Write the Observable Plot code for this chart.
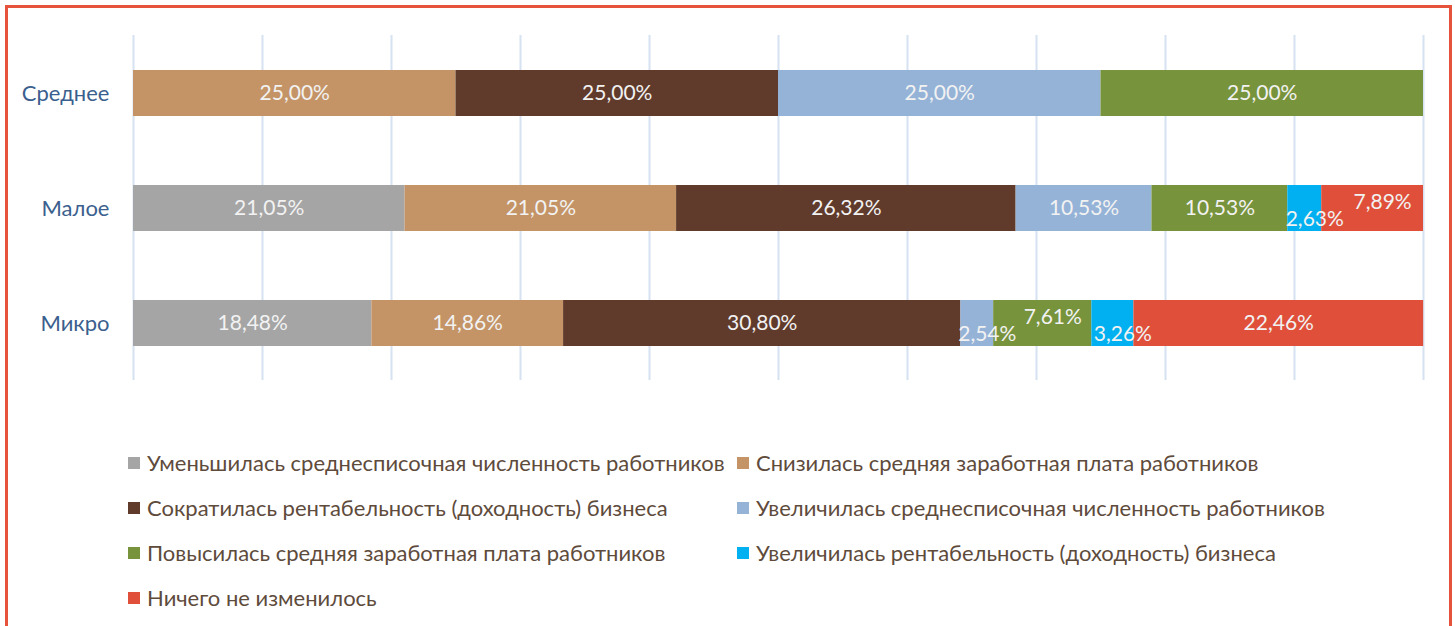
<!DOCTYPE html>
<html>
<head>
<meta charset="utf-8">
<script src="https://cdn.jsdelivr.net/npm/d3@7"></script>
<script src="https://cdn.jsdelivr.net/npm/@observablehq/plot@0.6"></script>
<style>
  html, body { margin: 0; padding: 0; background: #fff; }
  #wrap { position: relative; width: 1455px; height: 626px; overflow: hidden; background: #fff; }
  #frame { position: absolute; left: 5px; top: 5px; width: 1441px; height: 700px; border: 3px solid #E5533D; pointer-events: none; }
  #chart { position: absolute; left: 0; top: 0; }
  #legend { position: absolute; left: 128px; top: 440px; display: grid; grid-template-columns: 609px auto; grid-auto-rows: 45px; font-family: Lato, sans-serif; font-size: 22px; color: #5E4B3C; }
  .item { display: flex; align-items: center; white-space: nowrap; }
  .sw { width: 12px; height: 12px; margin-right: 7px; flex: none; }
</style>
</head>
<body>
<div id="wrap">
  <div id="chart"></div>
  <div id="legend"></div>
  <div id="frame"></div>
</div>
<script>
const categories = ["Среднее", "Малое", "Микро"];
const seriesNames = [
  "Уменьшилась среднесписочная численность работников",
  "Снизилась средняя заработная плата работников",
  "Сократилась рентабельность (доходность) бизнеса",
  "Увеличилась среднесписочная численность работников",
  "Повысилась средняя заработная плата работников",
  "Увеличилась рентабельность (доходность) бизнеса",
  "Ничего не изменилось"
];
const seriesColors = ["#A5A5A5", "#C49467", "#603A2B", "#95B3D7", "#77933C", "#00B0F0", "#E04F3A"];
const sredneeValues = [0, 25.00, 25.00, 25.00, 25.00, 0, 0];
const maloeValues = [21.05, 21.05, 26.32, 10.53, 10.53, 2.63, 7.89];
const mikroValues = [18.48, 14.86, 30.80, 2.54, 7.61, 3.26, 22.46];
const xTicks = [0, 10, 20, 30, 40, 50, 60, 70, 80, 90, 100];

const valuesByCat = [sredneeValues, maloeValues, mikroValues];
const data = [];
categories.forEach((cat, ci) => {
  let acc = 0;
  valuesByCat[ci].forEach((v, si) => {
    data.push({cat, series: seriesNames[si], v, mid: acc + v / 2});
    acc += v;
  });
});
const labelled = data.filter(d => d.v > 0);
const fmt = v => v.toFixed(2).replace(".", ",") + "%";

const labelStyle = {fill: "#F2F2F2", fontSize: 21, fontFamily: "Lato, sans-serif"};

const chart = Plot.plot({
  width: 1455,
  height: 400,
  marginLeft: 133,
  marginRight: 32,
  marginTop: 35,
  marginBottom: 20,
  style: {fontFamily: "Lato, sans-serif", background: "transparent"},
  x: {domain: [0, 100], axis: null},
  y: {domain: categories, paddingInner: 0.6, paddingOuter: 0.3, axis: null},
  color: {domain: seriesNames, range: seriesColors},
  marks: [
    Plot.ruleX(xTicks, {stroke: "#D6E2F1", strokeWidth: 2}),
    Plot.barX(data, {x: "v", y: "cat", fill: "series"}),
    Plot.text(labelled.filter(d => d.v >= 10), {x: "mid", y: "cat", text: d => fmt(d.v), ...labelStyle}),
    Plot.text(labelled.filter(d => d.v >= 5 && d.v < 10), {x: "mid", y: "cat", text: d => fmt(d.v), dx: 10, dy: -6, ...labelStyle}),
    Plot.text(labelled.filter(d => d.v < 5), {x: "mid", y: "cat", text: d => fmt(d.v), dx: 10, dy: 11, ...labelStyle}),
    Plot.axisY({domain: categories, label: null, tickSize: 0, tickPadding: 24, fontSize: 22, color: "#3B5F8E", fill: "#3B5F8E", textAnchor: "end"})
  ]
});
document.getElementById("chart").appendChild(chart);

const legend = document.getElementById("legend");
seriesNames.forEach((name, i) => {
  const item = document.createElement("div");
  item.className = "item";
  const sw = document.createElement("span");
  sw.className = "sw";
  sw.style.background = seriesColors[i];
  const t = document.createElement("span");
  t.textContent = name;
  item.appendChild(sw);
  item.appendChild(t);
  legend.appendChild(item);
});
</script>
</body>
</html>
